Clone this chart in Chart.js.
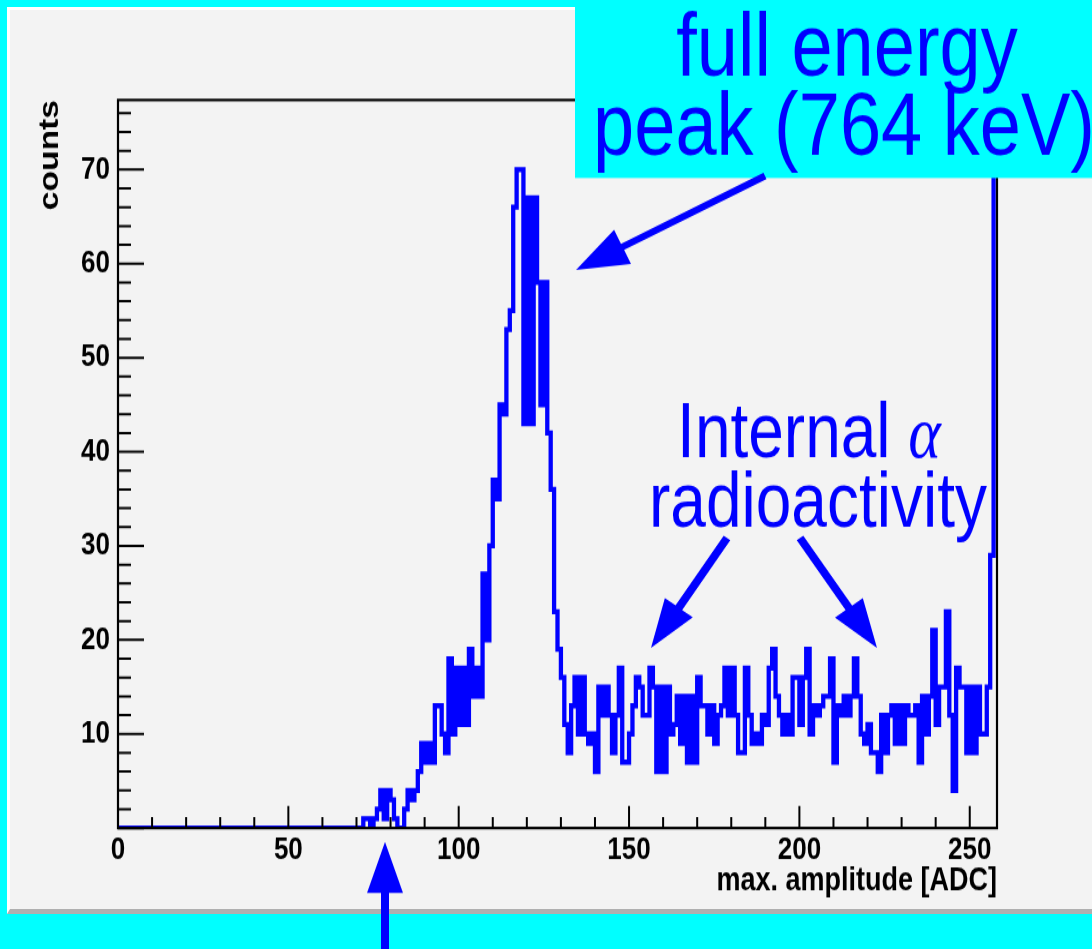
<!DOCTYPE html>
<html>
<head>
<meta charset="utf-8">
<script src="https://cdn.jsdelivr.net/npm/chart.js@4.4.1/dist/chart.umd.min.js"></script>
<style>
  html, body { margin: 0; padding: 0; background: #00ffff; overflow: hidden; }
  #panel {
    position: absolute; left: 7px; top: 7px; width: 1082px; height: 899px;
    background: #f3f3f3;
    border-left: 3px solid #fff; border-top: 3px solid #fff;
    border-bottom: 5px solid #b0b0b0;
  }
  /* the slide had the ROOT canvas stretched vertically; draw at 1092x791 and stretch */
  #wrap {
    position: absolute; left: 0; top: 0; width: 1092px; height: 791px;
    transform: scaleY(1.19975); transform-origin: 0 0;
  }
</style>
</head>
<body>
<div id="panel"></div>
<div id="wrap"><canvas id="spectrum"></canvas></div>
<script>
const S = 949 / 791;   // vertical stretch of the page

// axis ranges (ADC channels / counts)
const xMin = 0, xMax = 258;
const yMin = 0, yMax = 77.4;

// counts per ADC channel, channel 0 .. 257 (one bin per channel)
const counts = [
  0, 0, 0, 0, 0, 0, 0, 0, 0, 0,   0, 0, 0, 0, 0, 0, 0, 0, 0, 0,
  0, 0, 0, 0, 0, 0, 0, 0, 0, 0,   0, 0, 0, 0, 0, 0, 0, 0, 0, 0,
  0, 0, 0, 0, 0, 0, 0, 0, 0, 0,   0, 0, 0, 0, 0, 0, 0, 0, 0, 0,
  0, 0, 0, 0, 0, 0, 0, 0, 0, 0,   0, 0,
  1, 1, 0, 1, 2, 4, 1, 4, 3, 1,          // 72
  0, 0, 2, 4, 3, 4, 6, 9, 7, 9,          // 82
  7, 13, 13, 10, 8, 18, 10, 17, 11, 17,  // 92
  11, 19, 14, 17, 14, 27, 20, 30, 37, 35,// 102
  45, 44, 53, 55, 66, 70, 70, 43, 67, 43,// 112
  67, 58, 45, 58, 42, 36, 23, 19, 16, 11,// 122
  8, 13, 16, 10, 16, 10, 9, 10, 6, 15,   // 132
  12, 15, 12, 8, 12, 17, 7, 7, 10, 13,   // 142
  16, 15, 12, 12, 17, 15, 6, 15, 6, 15,  // 152
  10, 11, 14, 9, 14, 7, 14, 7, 16, 13,   // 162
  13, 10, 13, 9, 12, 13, 17, 12, 17, 12, // 172
  8, 8, 17, 12, 9, 10, 9, 12, 11, 17,    // 182
  19, 14, 12, 10, 12, 10, 16, 16, 11, 16,// 192
  19, 10, 13, 12, 13, 14, 14, 18, 7, 13, // 202
  12, 14, 12, 14, 18, 14, 10, 9, 11, 8,  // 212
  8, 6, 12, 8, 12, 13, 9, 13, 9, 13,     // 222
  12, 12, 13, 7, 14, 10, 14, 21, 11, 15, // 232
  15, 23, 12, 4, 17, 15, 15, 8, 15, 8,   // 242
  15, 10, 10, 15, 29, 110                // 252 (last channel saturates)
];

const xTicks = [0, 50, 100, 150, 200, 250];
const yTicks = [10, 20, 30, 40, 50, 60, 70];

const BLUE = '#0000ff';
const SANS = '"Liberation Sans", Arial, Helvetica, sans-serif';

// step points: value of bin i spans [i, i+1]
const points = counts.map((c, i) => ({ x: xMin + i, y: c }));
points.push({ x: xMin + counts.length, y: counts[counts.length - 1] });

// ROOT style frame + ticks pointing into the pad
const rootFrame = {
    id: 'rootFrame',
    afterDatasetsDraw(chart) {
        const { ctx, chartArea: { left, right, top, bottom }, scales: { x, y } } = chart;
        ctx.save();
        ctx.strokeStyle = '#000';
        ctx.lineWidth = 2;
        ctx.beginPath();
        for (let v = 0; v <= yMax; v += 2) {
            const py = y.getPixelForValue(v);
            const len = v % 10 === 0 ? 26 : 13;
            ctx.moveTo(left, py); ctx.lineTo(left + len, py);
        }
        for (let v = 0; v <= xMax; v += 10) {
            const px = x.getPixelForValue(v);
            const len = (v % 50 === 0 ? 22 : 11) / S;
            ctx.moveTo(px, bottom); ctx.lineTo(px, bottom - len);
        }
        ctx.stroke();
        ctx.lineWidth = 2.2;
        ctx.strokeRect(left, top, right - left, bottom - top);
        ctx.restore();
    }
};

// arrow as one polygon, given in page pixels
function arrow(ctx, x1, y1, x2, y2, head, halfW, width) {
    const len = Math.hypot(x2 - x1, y2 - y1);
    const ux = (x2 - x1) / len, uy = (y2 - y1) / len;
    const nx = -uy, ny = ux;
    const bx = x2 - head * ux, by = y2 - head * uy;
    const w = width / 2;
    const pts = [
        [x1 + nx * w, y1 + ny * w], [bx + nx * w, by + ny * w], [bx + nx * halfW, by + ny * halfW],
        [x2, y2],
        [bx - nx * halfW, by - ny * halfW], [bx - nx * w, by - ny * w], [x1 - nx * w, y1 - ny * w]
    ];
    ctx.beginPath();
    pts.forEach(([px, py], i) => i ? ctx.lineTo(px, py / S) : ctx.moveTo(px, py / S));
    ctx.closePath();
    ctx.fill();
}

// slide annotations drawn over the plot (positions in page pixels)
const annotations = {
    id: 'annotations',
    afterDraw(chart) {
        const ctx = chart.ctx;
        ctx.save();
        ctx.fillStyle = '#00ffff';
        ctx.fillRect(575, 0, 517, 178 / S);

        ctx.fillStyle = BLUE;
        ctx.textAlign = 'center';
        ctx.textBaseline = 'alphabetic';
        ctx.font = '74px ' + SANS;
        ctx.fillText('full energy', 847, 75 / S);
        ctx.fillText('peak (764 keV)', 844, 155 / S);

        const greek = 'italic 62px "Liberation Serif", "DejaVu Serif", serif';
        ctx.font = '64px ' + SANS;
        const t1 = 'Internal ';
        const w1 = ctx.measureText(t1).width;
        ctx.font = greek;
        const w2 = ctx.measureText('α').width;
        const x0 = 809 - (w1 + w2) / 2;
        ctx.textAlign = 'left';
        ctx.font = '64px ' + SANS;
        ctx.fillText(t1, x0, 457 / S);
        ctx.font = greek;
        ctx.fillText('α', x0 + w1, 457 / S);
        ctx.textAlign = 'center';
        ctx.font = '64px ' + SANS;
        ctx.fillText('radioactivity', 818, 527 / S);

        arrow(ctx, 765, 176, 576, 270, 52, 19, 7);
        arrow(ctx, 727, 538, 651, 648, 49, 17, 8);
        arrow(ctx, 800, 538, 877, 648, 49, 17, 8);
        arrow(ctx, 385, 952, 385, 842, 51, 18, 8);
        ctx.restore();
    }
};

Chart.defaults.font.family = SANS;
Chart.defaults.color = '#000';

new Chart(document.getElementById('spectrum'), {
    type: 'line',
    data: {
        datasets: [{
            label: 'spectrum',
            data: points,
            borderColor: BLUE,
            borderWidth: 4.3,
            stepped: 'before',
            pointRadius: 0,
            fill: false,
            tension: 0,
        }]
    },
    options: {
        responsive: true,
        maintainAspectRatio: false,
        animation: false,
        events: [],
        layout: { padding: { left: 0, top: 100 / S, right: 95, bottom: 0 } },
        plugins: { legend: { display: false }, tooltip: { enabled: false } },
        scales: {
            x: {
                type: 'linear',
                min: xMin, max: xMax,
                afterFit: (s) => { s.height = 791 - 828 / S; },
                afterBuildTicks: (s) => { s.ticks = xTicks.map(v => ({ value: v })); },
                grid: { display: false, drawTicks: false },
                border: { display: false },
                ticks: {
                    font: { size: 26, weight: 'bold' },
                    padding: 3.5, maxRotation: 0, autoSkip: false,
                },
                title: {
                    display: true, text: 'max. amplitude [ADC]', align: 'end',
                    font: { size: 27, weight: 'bold' },
                    padding: { top: 0, bottom: 40.5 },
                }
            },
            y: {
                type: 'linear',
                min: yMin, max: yMax,
                afterFit: (s) => { s.width = 118; },
                afterBuildTicks: (s) => { s.ticks = yTicks.map(v => ({ value: v })); },
                grid: { display: false, drawTicks: false },
                border: { display: false },
                ticks: { font: { size: 26, weight: 'bold' }, padding: 8 },
                title: {
                    display: true, text: 'counts', align: 'end',
                    font: { size: 28, weight: 'bold' },
                    padding: { top: 33, bottom: 0 },
                }
            }
        }
    },
    plugins: [rootFrame, annotations]
});
</script>
</body>
</html>
